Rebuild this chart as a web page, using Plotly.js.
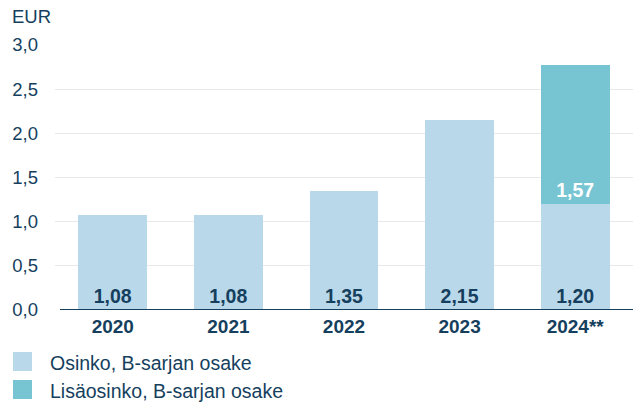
<!DOCTYPE html>
<html><head><meta charset="utf-8">
<script src="https://cdn.plot.ly/plotly-3.0.1.min.js"></script>
<style>body{margin:0;background:#fff}#c{width:633px;height:403px}</style>
</head><body><div id="c"></div>
<script>
const categories = ['2020','2021','2022','2023','2024**'];
const osinko = [1.08, 1.08, 1.35, 2.15, 1.20];
const lisaosinko = [null, null, null, null, 1.57];
const seriesNames = ['Osinko, B-sarjan osake', 'Lisäosinko, B-sarjan osake'];
const yTicks = [0, 0.5, 1.0, 1.5, 2.0, 2.5, 3.0];

const navy = '#163f5e';
const c1 = '#b9d8ea', c2 = '#77c4d3';
const font = 'Liberation Sans, Arial, sans-serif';

const data = [
  {type:'bar', x:categories, y:osinko, name:seriesNames[0], marker:{color:c1},
   texttemplate:'%{y:.2f}', textposition:'inside', insidetextanchor:'start',
   textfont:{family:font, size:19.5, color:navy, weight:'bold'}, constraintext:'none', hoverinfo:'skip'},
  {type:'bar', x:categories, y:lisaosinko, name:seriesNames[1], marker:{color:c2},
   texttemplate:'%{y:.2f}', textposition:'inside', insidetextanchor:'start',
   textfont:{family:font, size:19.5, color:'#ffffff', weight:'bold'}, constraintext:'none', hoverinfo:'skip'}
];

const px = x => (x-55)/578, py = y => (310-y)/265;
const colors = [c1, c2];
const shapes = [], annotations = [];
[[352,371],[380,399]].forEach((r,i)=>{
  shapes.push({type:'rect', xref:'paper', yref:'paper', x0:px(13), x1:px(32), y0:py(r[1]), y1:py(r[0]), fillcolor:colors[i], line:{width:0}});
  annotations.push({xref:'paper', yref:'paper', x:px(48), y:py((r[0]+r[1])/2 + 1), xanchor:'left', yanchor:'middle', showarrow:false,
    text:seriesNames[i], font:{family:font, size:19.5, color:navy}});
});
shapes.push({type:'line', xref:'paper', yref:'y', x0:px(60), x1:1, y0:0, y1:0, line:{color:navy, width:2}});
annotations.push({xref:'paper', yref:'paper', x:px(10), y:py(16), xanchor:'left', yanchor:'middle', showarrow:false,
  text:'EUR', font:{family:font, size:18.5, color:navy}});

const layout = {
  width:633, height:403, margin:{l:55, r:0, t:45, b:93},
  paper_bgcolor:'#fff', plot_bgcolor:'#fff',
  barmode:'stack', bargap:0.405, showlegend:false, separators:', ',
  xaxis:{type:'category', showgrid:false, showline:false, ticks:'', zeroline:false,
    tickfont:{family:font, size:19, color:navy, weight:'bold'}, ticklabelstandoff:3},
  yaxis:{range:[0,3], tickvals:yTicks, tickformat:'.1f', showgrid:true, gridcolor:'#e8e8e8', gridwidth:1,
    zeroline:false, showline:false, ticks:'',
    tickfont:{family:font, size:18.5, color:navy}, ticklabelstandoff:16},
  shapes:shapes, annotations:annotations
};
Plotly.newPlot('c', data, layout, {displayModeBar:false, staticPlot:true});
</script></body></html>
